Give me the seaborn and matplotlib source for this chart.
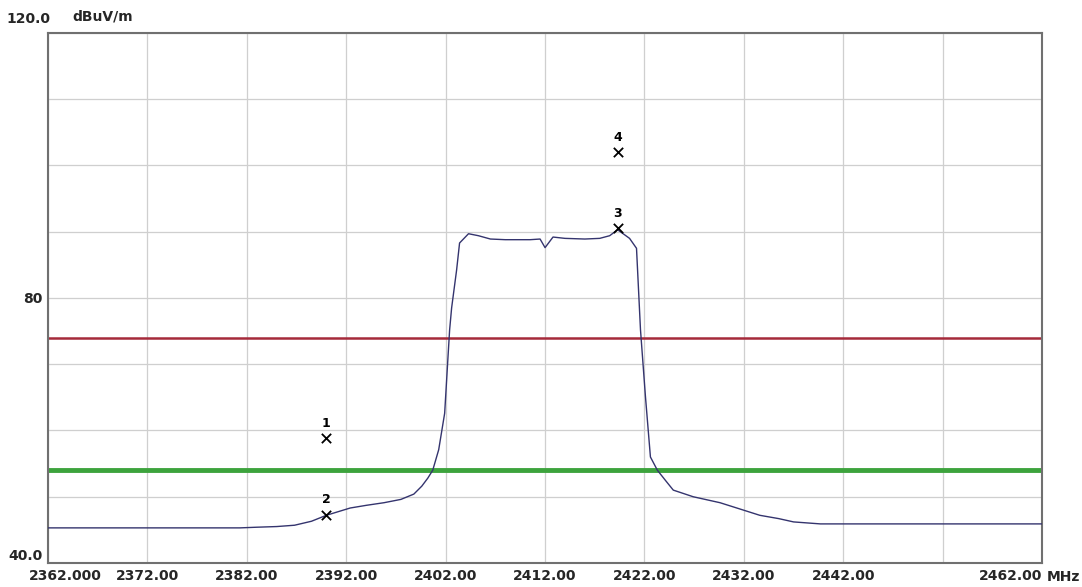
import matplotlib
matplotlib.use("Agg")
import matplotlib.pyplot as plt
import matplotlib.transforms as mtransforms
import seaborn as sns
import pandas as pd

# trace (MHz, dBuV/m)
freq = [2362, 2370, 2380, 2381.3, 2383, 2385, 2386.8, 2388.5, 2390, 2392.4,
        2394, 2395.8, 2397.5, 2398.8, 2399.6, 2400.2, 2400.7, 2401.3, 2401.9, 2402.2,
        2402.4, 2402.6, 2403.1, 2403.4, 2404.3, 2405.3, 2406.5, 2408, 2410.5, 2411.5,
        2412.0, 2412.8, 2414, 2416, 2417.5, 2418.5, 2419.3, 2420.5, 2421.2, 2421.6,
        2422.1, 2422.6, 2423.3, 2424.2, 2424.9, 2426.9, 2429.6, 2431.5, 2433.6, 2435.5,
        2437.0, 2439.7, 2442, 2450, 2462]
level = [45.3, 45.3, 45.3, 45.3, 45.4, 45.5, 45.7, 46.3, 47.2, 48.3,
         48.7, 49.1, 49.6, 50.4, 51.6, 52.8, 54.0, 57.1, 62.6, 70.2,
         75.2, 78.5, 84.2, 88.3, 89.7, 89.4, 88.9, 88.8, 88.8, 88.9,
         87.6, 89.2, 89.0, 88.9, 89.0, 89.4, 90.3, 89.0, 87.5, 75.2,
         65.1, 56.0, 54.0, 52.3, 51.0, 50.0, 49.1, 48.2, 47.2, 46.7,
         46.2, 45.9, 45.9, 45.9, 45.9]

# markers
marker_ids = ["1", "2", "3", "4"]
marker_freq = [2390.0, 2390.0, 2419.3, 2419.3]
marker_level = [58.8, 47.3, 90.5, 102.0]

# limit lines
peak_limit = 74
avg_limit = 54

x_ticks = [2362, 2372, 2382, 2392, 2402, 2412, 2422, 2432, 2442, 2452, 2462]
x_labels = ["2362.000", "2372.00", "2382.00", "2392.00", "2402.00", "2412.00",
            "2422.00", "2432.00", "2442.00", "", "2462.00"]
y_ticks = [40, 80, 120]
y_labels = ["40.0", "80", "120.0"]

df = pd.DataFrame({"freq": freq, "level": level})
mk = pd.DataFrame({"freq": marker_freq, "level": marker_level, "id": marker_ids})

sns.set_style("white")
plt.rcParams["font.family"] = ["Liberation Sans Narrow", "DejaVu Sans"]

fig = plt.figure(figsize=(10.82, 5.87), dpi=100)
ax = fig.add_axes([0.0444, 0.0409, 0.9187, 0.9029])

ax.axhline(peak_limit, color="#a52a3a", lw=1.8, zorder=2)
ax.axhline(avg_limit, color="#3da33d", lw=3.5, zorder=2)

sns.lineplot(data=df, x="freq", y="level", ax=ax, color="#34346e", lw=1.0, zorder=3)
sns.scatterplot(data=mk, x="freq", y="level", ax=ax, marker="x", s=45,
                color="black", linewidth=1.3, zorder=4)
for _, r in mk.iterrows():
    ax.annotate(r["id"], (r["freq"], r["level"]), xytext=(0, 6),
                textcoords="offset points", ha="center", va="bottom",
                fontsize=9, fontweight="bold", color="black")

ax.set_xlim(2362, 2462)
ax.set_ylim(40, 120)
ax.set_xticks(x_ticks)
ax.set_xticklabels(x_labels, fontsize=10, fontweight="bold")
ax.set_yticks(y_ticks)
ax.set_yticklabels(y_labels, fontsize=10, fontweight="bold")
ax.set_yticks(range(50, 120, 10), minor=True)
ax.tick_params(axis="both", length=0, pad=4)
ax.grid(True, which="both", color="#cfcfcf", lw=0.9)
ax.set_axisbelow(True)
ax.set_xlabel("")
ax.set_ylabel("")

tl = ax.get_yticklabels()
tl[0].set_va("bottom")
tl[2].set_va("bottom")
tl[2].set_ha("left")
tl[2].set_transform(tl[2].get_transform()
                    + mtransforms.ScaledTranslation(-36 / 100, 7 / 100, fig.dpi_scale_trans))
xl = ax.get_xticklabels()
xl[-1].set_ha("right")
xl[0].set_transform(xl[0].get_transform()
                    + mtransforms.ScaledTranslation(17 / 100, 0, fig.dpi_scale_trans))

for s in ax.spines.values():
    s.set_color("#707070")
    s.set_linewidth(1.5)

ax.text(0.024, 1.018, "dBuV/m", transform=ax.transAxes, ha="left", va="bottom",
        fontsize=10, fontweight="bold")
ax.text(1.005, -0.013, "MHz", transform=ax.transAxes, ha="left", va="top",
        fontsize=10, fontweight="bold")

fig.savefig("out.png", dpi=100)
